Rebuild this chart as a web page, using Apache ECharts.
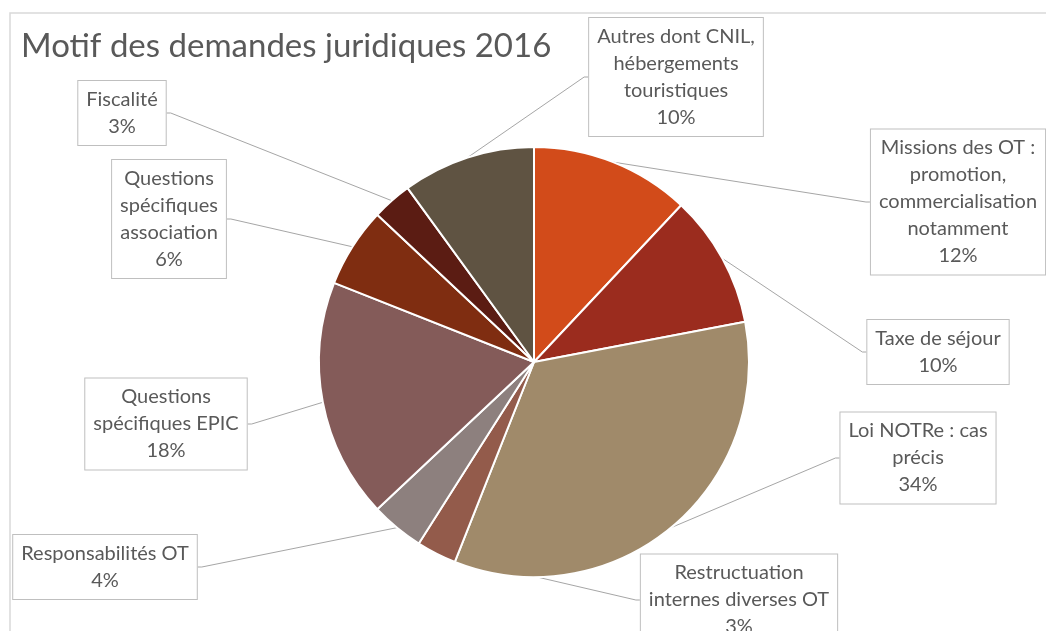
<!DOCTYPE html>
<html>
<head>
<meta charset="utf-8">
<script src="https://cdn.jsdelivr.net/npm/echarts@6/dist/echarts.min.js"></script>
<style>
  html, body { margin: 0; padding: 0; background: #fff; }
  #chart { width: 1046px; height: 631px; }
</style>
</head>
<body>
<div id="chart"></div>
<script>
// catégories (sens horaire depuis midi)
const categories = [
  'Missions des OT :\npromotion,\ncommercialisation\nnotamment',
  'Taxe de séjour',
  'Loi NOTRe : cas\nprécis',
  'Restructuation\ninternes diverses OT',
  'Responsabilités OT',
  'Questions\nspécifiques EPIC',
  'Questions\nspécifiques\nassociation',
  'Fiscalité',
  'Autres dont CNIL,\nhébergements\ntouristiques'
]
const values = [12, 10, 34, 3, 4, 18, 6, 3, 10]
const colors = ['#d24b1a', '#9b2c1e', '#a08a6a', '#935b4b', '#8d807e', '#845b59', '#7f2d11', '#5b1c13', '#5f5342']

// centre des étiquettes
const labelPos = [
  [958, 202], [938, 352], [918, 458], [739, 600], [105, 567],
  [166, 424], [169, 219], [122, 113], [676, 77]
]

const chart = echarts.init(document.getElementById('chart'))

const option = {
  backgroundColor: '#fff',
  animation: false,
  title: {
    text: 'Motif des demandes juridiques 2016',
    left: 16,
    top: 25,
    textStyle: {
      fontFamily: 'Lato',
      fontSize: 33,
      fontWeight: 'normal',
      color: '#595959'
    }
  },
  graphic: [{
    type: 'polyline',
    shape: { points: [[10, 640], [10, 13], [1060, 13]] },
    style: { stroke: '#d9d9d9', lineWidth: 1.5, fill: null },
    silent: true
  }],
  series: [{
    type: 'pie',
    center: [534, 362],
    radius: 215,
    startAngle: 90,
    clockwise: true,
    percentPrecision: 0,
    itemStyle: { borderColor: '#fff', borderWidth: 2 },
    data: categories.map((name, i) => ({
      name: name,
      value: values[i],
      itemStyle: { color: colors[i] }
    })),
    label: {
      show: true,
      formatter: '{b}\n{d}%',
      fontFamily: 'Lato',
      fontSize: 20,
      lineHeight: 27,
      color: '#595959',
      align: 'center',
      backgroundColor: '#fff',
      borderColor: '#bfbfbf',
      borderWidth: 1,
      padding: [5, 8, 5, 8]
    },
    labelLine: {
      show: true,
      length: 20,
      length2: 4,
      lineStyle: { color: '#a6a6a6', width: 1 }
    },
    labelLayout: function (params) {
      const p = labelPos[params.dataIndex]
      return {
        x: p[0],
        y: p[1],
        align: 'center',
        verticalAlign: 'middle'
      }
    }
  }]
}

chart.setOption(option)
</script>
</body>
</html>
